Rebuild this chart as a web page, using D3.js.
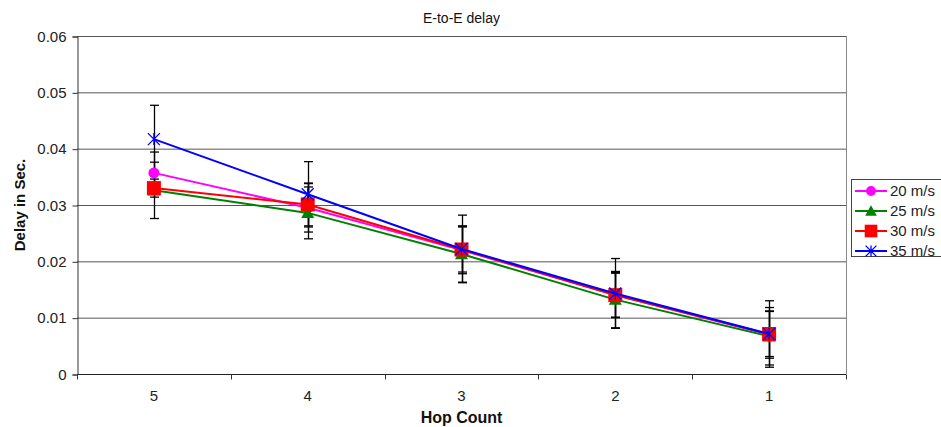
<!DOCTYPE html>
<html lang="en">
<head>
    <meta charset="UTF-8">
    <script src="https://cdn.jsdelivr.net/npm/d3@7"></script>
    <title>E-to-E delay</title>
    <style>
        body { margin: 0; background: #fff; }
        svg { display: block; font-family: "Liberation Sans", Arial, sans-serif; }
    </style>
</head>
<body>
<svg width="941" height="427"></svg>
<script>
    const WIDTH = 941;
    const HEIGHT = 427;
    const LEFT = 77, RIGHT = 846, TOP = 36, BOTTOM = 374;

    // data
    const hops = ["5", "4", "3", "2", "1"];
    const seriesNames = ["20 m/s", "25 m/s", "30 m/s", "35 m/s"];
    const delay20 = [0.0357, 0.0295, 0.0220, 0.0140, 0.0070];
    const delay25 = [0.0326, 0.0286, 0.0213, 0.0132, 0.0067];
    const delay30 = [0.0330, 0.0301, 0.0221, 0.0140, 0.0071];
    const delay35 = [0.0417, 0.0319, 0.0222, 0.0143, 0.0071];
    const err20 = [0.0037, 0.0043, 0.0042, 0.0039, 0.0042];
    const err25 = [0.0050, 0.0046, 0.0050, 0.0050, 0.0051];
    const err30 = [0.0016, 0.0038, 0.0040, 0.0040, 0.0040];
    const err35 = [0.0060, 0.0058, 0.0060, 0.0062, 0.0059];
    const yTicks = [0, 0.01, 0.02, 0.03, 0.04, 0.05, 0.06];

    const colors = ["#ff00ff", "#008000", "#ff0000", "#0000ff"];
    const markers = ["circle", "triangle", "square", "star"];

    const series = seriesNames.map((name, i) => ({
        name: name,
        color: colors[i],
        marker: markers[i],
        values: [delay20, delay25, delay30, delay35][i],
        errors: [err20, err25, err30, err35][i]
    }));

    const svg = d3.select("svg");

    const x = d3.scalePoint()
        .domain(hops)
        .range([LEFT, RIGHT])
        .padding(0.5);

    const y = d3.scaleLinear()
        .domain([0, 0.06])
        .range([BOTTOM, TOP]);

    // gridlines
    svg.append("g")
        .selectAll("line")
        .data(yTicks.slice(1))
        .enter()
        .append("line")
        .attr("x1", LEFT).attr("x2", RIGHT)
        .attr("y1", d => y(d) + 0.5).attr("y2", d => y(d) + 0.5)
        .attr("stroke", "#555")
        .attr("stroke-width", 1);

    // right border
    svg.append("line")
        .attr("x1", RIGHT + 0.5).attr("x2", RIGHT + 0.5)
        .attr("y1", TOP).attr("y2", BOTTOM)
        .attr("stroke", "#888");

    // y axis
    const yAxis = svg.append("g")
        .attr("transform", `translate(${LEFT + 0.5}, 0.5)`)
        .call(d3.axisLeft(y).tickValues(yTicks).tickSize(5).tickPadding(6)
            .tickFormat(d => d === 0 ? "0" : d3.format(".2f")(d)));
    yAxis.select(".domain").attr("stroke", "#333");
    yAxis.selectAll(".tick line").attr("stroke", "#333");
    yAxis.selectAll("text").attr("font-size", 15).attr("fill", "#222")
        .attr("font-family", "Liberation Sans, Arial, sans-serif");

    // x axis
    const step = x.step();
    const xAxis = svg.append("g")
        .attr("transform", `translate(0, ${BOTTOM + 0.5})`);
    xAxis.append("line")
        .attr("x1", LEFT).attr("x2", RIGHT)
        .attr("stroke", "#222");
    xAxis.selectAll("line.tick")
        .data(d3.range(hops.length + 1))
        .enter()
        .append("line")
        .attr("class", "tick")
        .attr("x1", i => Math.round(LEFT + i * step) + 0.5)
        .attr("x2", i => Math.round(LEFT + i * step) + 0.5)
        .attr("y1", 0).attr("y2", 5)
        .attr("stroke", "#333");
    xAxis.selectAll("text")
        .data(hops)
        .enter()
        .append("text")
        .attr("x", d => x(d))
        .attr("y", 26)
        .attr("text-anchor", "middle")
        .attr("font-size", 15)
        .attr("fill", "#222")
        .text(d => d);

    // error bars
    const errG = svg.append("g");
    series.forEach(s => {
        hops.forEach((h, i) => {
            const cx = Math.round(x(h)) + 0.5;
            const hi = y(s.values[i] + s.errors[i]);
            const lo = y(s.values[i] - s.errors[i]);
            errG.append("line")
                .attr("x1", cx).attr("x2", cx)
                .attr("y1", hi).attr("y2", lo)
                .attr("stroke", "#000").attr("stroke-width", 1.3);
            [hi, lo].forEach(v => {
                errG.append("line")
                    .attr("x1", cx - 4.5).attr("x2", cx + 4.5)
                    .attr("y1", v).attr("y2", v)
                    .attr("stroke", "#000").attr("stroke-width", 1.3);
            });
        });
    });

    function drawMarker(g, type, cx, cy, color, scale) {
        const k = scale || 1;
        if (type === "circle") {
            g.append("circle").attr("cx", cx).attr("cy", cy).attr("r", 5.5 * k).attr("fill", color);
        } else if (type === "triangle") {
            const s = 6.5 * k;
            g.append("path")
                .attr("d", `M${cx},${cy - s} L${cx + s},${cy + s * 0.8} L${cx - s},${cy + s * 0.8} Z`)
                .attr("fill", color);
        } else if (type === "square") {
            const s = 7 * k;
            g.append("rect").attr("x", cx - s).attr("y", cy - s)
                .attr("width", 2 * s).attr("height", 2 * s).attr("fill", color);
        } else {
            const s = 6 * k;
            g.append("path")
                .attr("d", `M${cx - s},${cy - s} L${cx + s},${cy + s} M${cx - s},${cy + s} L${cx + s},${cy - s} M${cx},${cy - s} L${cx},${cy + s}`)
                .attr("stroke", color).attr("stroke-width", 1.3).attr("fill", "none");
        }
    }

    // series lines and markers
    const line = d3.line()
        .x((d, i) => x(hops[i]))
        .y(d => y(d));

    series.forEach(s => {
        const g = svg.append("g");
        g.append("path")
            .datum(s.values)
            .attr("d", line)
            .attr("fill", "none")
            .attr("stroke", s.color)
            .attr("stroke-width", 2);
        s.values.forEach((v, i) => drawMarker(g, s.marker, x(hops[i]), y(v), s.color));
    });

    // title and axis labels
    svg.append("text")
        .attr("x", (LEFT + RIGHT) / 2)
        .attr("y", 23)
        .attr("text-anchor", "middle")
        .attr("font-size", 14)
        .attr("fill", "#111")
        .text("E-to-E delay");

    svg.append("text")
        .attr("x", (LEFT + RIGHT) / 2)
        .attr("y", 423)
        .attr("text-anchor", "middle")
        .attr("font-size", 16)
        .attr("font-weight", "bold")
        .attr("fill", "#111")
        .text("Hop Count");

    svg.append("text")
        .attr("transform", `translate(25, ${(TOP + BOTTOM) / 2}) rotate(-90)`)
        .attr("text-anchor", "middle")
        .attr("font-size", 15)
        .attr("font-weight", "bold")
        .attr("fill", "#111")
        .text("Delay in Sec.");

    // legend
    const legend = svg.append("g");
    legend.append("rect")
        .attr("x", 851.5).attr("y", 179.5)
        .attr("width", 100).attr("height", 77)
        .attr("fill", "#fff")
        .attr("stroke", "#444");
    series.forEach((s, i) => {
        const ly = 191 + i * 20;
        legend.append("line")
            .attr("x1", 855).attr("x2", 887)
            .attr("y1", ly).attr("y2", ly)
            .attr("stroke", s.color).attr("stroke-width", 2);
        drawMarker(legend, s.marker, 871, ly, s.color, 0.9);
        legend.append("text")
            .attr("x", 890)
            .attr("y", ly + 5)
            .attr("font-size", 15)
            .attr("fill", "#222")
            .text(s.name);
    });
</script>
</body>
</html>
